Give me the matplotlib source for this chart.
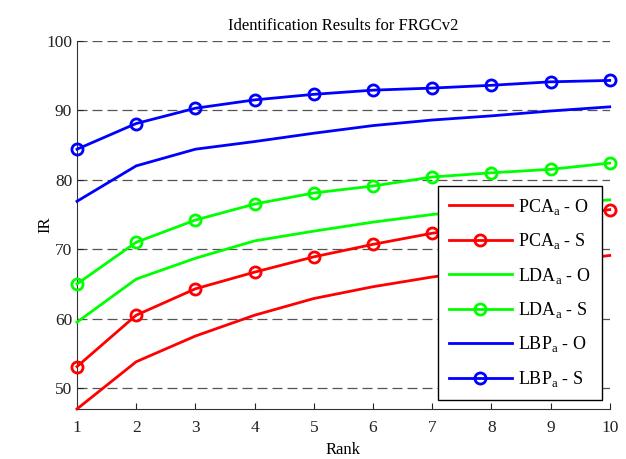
import matplotlib

matplotlib.use("Agg")
import matplotlib.pyplot as plt

plt.rcParams["font.family"] = ["Liberation Serif", "DejaVu Serif"]
plt.rcParams["mathtext.fontset"] = "custom"
plt.rcParams["mathtext.rm"] = "Liberation Serif"

rank = [1, 2, 3, 4, 5, 6, 7, 8, 9, 10]

pca_o = [47.0, 53.8, 57.5, 60.5, 62.9, 64.6, 66.0, 67.1, 68.1, 69.1]
pca_s = [53.1, 60.5, 64.3, 66.7, 68.9, 70.7, 72.3, 73.5, 74.6, 75.7]
lda_o = [59.5, 65.7, 68.7, 71.2, 72.6, 73.9, 75.0, 75.8, 76.5, 77.1]
lda_s = [65.0, 71.0, 74.2, 76.5, 78.1, 79.1, 80.4, 81.0, 81.5, 82.4]
lbp_o = [76.9, 82.0, 84.4, 85.5, 86.7, 87.8, 88.6, 89.2, 89.9, 90.5]
lbp_s = [84.4, 88.1, 90.3, 91.5, 92.3, 92.9, 93.2, 93.6, 94.1, 94.3]

series = [
    (pca_o, "PCA$_\\mathrm{a}$ - O", "#ff0000", None),
    (pca_s, "PCA$_\\mathrm{a}$ - S", "#ff0000", "o"),
    (lda_o, "LDA$_\\mathrm{a}$ - O", "#00ff00", None),
    (lda_s, "LDA$_\\mathrm{a}$ - S", "#00ff00", "o"),
    (lbp_o, "LBP$_\\mathrm{a}$ - O", "#0000ff", None),
    (lbp_s, "LBP$_\\mathrm{a}$ - S", "#0000ff", "o"),
]

fig = plt.figure(figsize=(6.26, 4.59), dpi=100)
ax = fig.add_axes([0.123, 0.109, 0.851, 0.802])

for vals, label, color, marker in series:
    ax.plot(rank, vals, color=color, lw=2.0, marker=marker, ms=8,
            mfc="none", mec=color, mew=2.0, label=label, clip_on=False, zorder=3)

ax.set_xlim(1, 10)
ax.set_ylim(47, 100)
ax.set_xticks(rank)
ax.set_yticks([50, 60, 70, 80, 90, 100])
ax.yaxis.grid(True, linestyle=(0, (8, 4)), color="#555555", lw=0.9)
ax.set_axisbelow(True)
for side in ("top", "right"):
    ax.spines[side].set_visible(False)
for side in ("left", "bottom"):
    ax.spines[side].set_color("#333333")
ax.tick_params(direction="in", length=4, labelsize=12.5, colors="#222222")
ax.tick_params(axis="x", pad=8)

ax.set_xlabel("Rank", fontsize=12, labelpad=4)
ax.set_ylabel("IR", fontsize=12, labelpad=-5)
ax.set_title("Identification Results for FRGCv2", fontsize=12, pad=8)

leg = ax.legend(loc="lower right", bbox_to_anchor=(0.985, 0.025), fontsize=13,
                handlelength=3.5, handletextpad=0.35, labelspacing=0.8,
                borderpad=0.6, borderaxespad=0,
                fancybox=False, framealpha=1, edgecolor="black")
leg.get_frame().set_linewidth(1.0)

fig.savefig("out.png", dpi=100)
